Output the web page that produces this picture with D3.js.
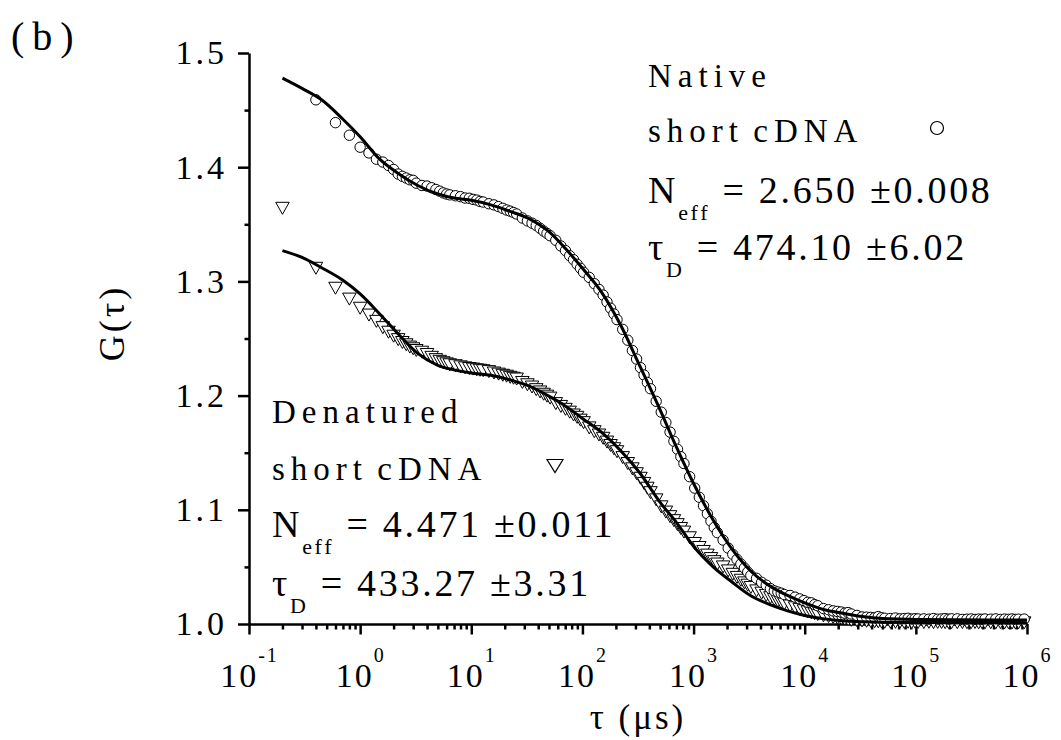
<!DOCTYPE html>
<html>
<head>
<meta charset="utf-8">
<script src="https://cdn.jsdelivr.net/npm/d3@7"></script>
<style>
  body { margin: 0; background: #fff; }
  svg text { font-family: "Liberation Serif", "Times New Roman", serif; fill: #000; }
</style>
</head>
<body>
<svg class="chart"></svg>
<script>

// lag times of the correlator channels (us), shared by both measurements
var tauUs = [
    0.2, 0.4, 0.6, 0.8, 1.0, 1.2, 1.4, 1.6, 1.8, 2.0, 2.2, 2.4, 2.6, 2.8, 3.0, 3.2,
    3.6, 4.0, 4.4, 4.8, 5.2, 5.6, 6.0, 6.4,
    7.2, 8.0, 8.8, 9.6, 10.4, 11.2, 12.0, 12.8,
    14.4, 16.0, 17.6, 19.2, 20.8, 22.4, 24.0, 25.6,
    28.8, 32.0, 35.2, 38.4, 41.6, 44.8, 48.0, 51.2,
    57.6, 64.0, 70.4, 76.8, 83.2, 89.6, 96.0, 102.4,
    115.2, 128, 140.8, 153.6, 166.4, 179.2, 192, 204.8,
    230.4, 256, 281.6, 307.2, 332.8, 358.4, 384, 409.6,
    460.8, 512, 563.2, 614.4, 665.6, 716.8, 768, 819.2,
    921.6, 1024, 1126, 1229, 1331, 1434, 1536, 1638,
    1843, 2048, 2253, 2458, 2662, 2867, 3072, 3277,
    3686, 4096, 4506, 4915, 5325, 5734, 6144, 6554,
    7373, 8192, 9011, 9830, 10650, 11469, 12288, 13107,
    14746, 16384, 18022, 19661, 21299, 22938, 24576, 26214,
    29491, 32768, 36045, 39322, 42598, 45875, 49152, 52429,
    58982, 65536, 72090, 78643, 85197, 91750, 98304, 104858,
    117965, 131072, 144179, 157286, 170394, 183501, 196608, 209715,
    235930, 262144, 288358, 314573, 340787, 367002, 393216, 419430,
    471859, 524288, 576717, 629146, 681574, 734003, 786432, 838861,
    943718
];

// native short cDNA (circles), first channel not shown
var nativeG = [
    null, 1.459, 1.439, 1.428, 1.4175, 1.4125, 1.407, 1.4045, 1.4015, 1.398, 1.394, 1.392, 1.3905, 1.389, 1.3885, 1.386,
    1.384, 1.3835, 1.382, 1.3805, 1.379, 1.3775, 1.3765, 1.3758,
    1.375, 1.3742, 1.373, 1.3728, 1.3718, 1.3712, 1.370, 1.3695,
    1.368, 1.367, 1.3655, 1.364, 1.3625, 1.3615, 1.3603, 1.359,
    1.3555, 1.353, 1.351, 1.349, 1.3465, 1.344, 1.342, 1.340,
    1.336, 1.331, 1.327, 1.3225, 1.319, 1.315, 1.3115, 1.308,
    1.3035, 1.298, 1.293, 1.288, 1.282, 1.2765, 1.2715, 1.2665,
    1.258, 1.2485, 1.2395, 1.232, 1.2245, 1.218, 1.2115, 1.206,
    1.195, 1.1855, 1.1765, 1.168, 1.160, 1.153, 1.1465, 1.1405,
    1.129, 1.119, 1.111, 1.1035, 1.0965, 1.090, 1.0845, 1.080,
    1.0735, 1.0665, 1.061, 1.0565, 1.0525, 1.049, 1.0455, 1.0425,
    1.040, 1.0365, 1.034, 1.031, 1.029, 1.028, 1.027, 1.0258,
    1.025, 1.0235, 1.022, 1.0205, 1.019, 1.0185, 1.017, 1.016,
    1.0135, 1.0125, 1.0115, 1.011, 1.0105, 1.0095, 1.010, 1.0088,
    1.0075, 1.0062, 1.006, 1.0058, 1.0055, 1.0065, 1.0055, 1.005,
    1.0048, 1.0052, 1.0045, 1.0047, 1.005, 1.0043, 1.0046, 1.0044,
    1.0045, 1.0042, 1.0048, 1.0042, 1.0044, 1.0047, 1.0042, 1.0045,
    1.0045, 1.004, 1.0042, 1.0044, 1.004, 1.0043, 1.0041, 1.0044,
    1.0042, 1.0045, 1.004, 1.0043, 1.0041, 1.0044, 1.004, 1.0042,
    1.0043
];

// denatured short cDNA (triangles)
var denatG = [
    1.364, 1.3115, 1.294, 1.2845, 1.2765, 1.2705, 1.265, 1.2595, 1.2555, 1.252, 1.249, 1.2465, 1.2445, 1.2425, 1.241, 1.2395,
    1.238, 1.236, 1.2335, 1.2315, 1.230, 1.2288, 1.2278, 1.227,
    1.2262, 1.2252, 1.2243, 1.2237, 1.2232, 1.2226, 1.2222, 1.2218,
    1.221, 1.2198, 1.2188, 1.2178, 1.217, 1.216, 1.2152, 1.2145,
    1.2115, 1.2095, 1.2075, 1.2052, 1.2032, 1.2012, 1.1995, 1.1978,
    1.193, 1.1905, 1.188, 1.1855, 1.183, 1.181, 1.1785, 1.1763,
    1.1717, 1.1684, 1.1655, 1.1626, 1.1593, 1.1563, 1.1535, 1.1509,
    1.1457, 1.1405, 1.1359, 1.1316, 1.1276, 1.1231, 1.1189, 1.115,
    1.1087, 1.1026, 1.098, 1.094, 1.0905, 1.087, 1.0836, 1.0805,
    1.0755, 1.0705, 1.067, 1.0635, 1.0603, 1.0573, 1.0546, 1.0525,
    1.050, 1.0465, 1.0435, 1.0408, 1.0383, 1.036, 1.034, 1.032,
    1.029, 1.027, 1.025, 1.023, 1.0215, 1.020, 1.0188, 1.0176,
    1.0158, 1.0142, 1.0128, 1.0116, 1.0106, 1.0098, 1.009, 1.0083,
    1.0072, 1.0065, 1.0058, 1.0052, 1.0046, 1.004, 1.0036, 1.0032,
    1.0029, 1.0027, 1.0024, 1.0022, 1.002, 1.0019, 1.0018, 1.0016,
    1.0016, 1.0015, 1.0017, 1.0014, 1.0015, 1.0013, 1.0016, 1.0014,
    1.0013, 1.0015, 1.0012, 1.0014, 1.0013, 1.0012, 1.0014, 1.0012,
    1.0012, 1.0013, 1.0011, 1.0012, 1.0013, 1.001, 1.0012, 1.0011,
    1.0011, 1.001, 1.0012, 1.001, 1.0011, 1.0009, 1.001, 1.0011,
    1.001
];

// fitted curves
var fitTau = [0.2, 0.3, 0.45, 0.7, 1, 1.5, 2.2, 3.3, 5, 7, 10, 15, 22, 33, 50, 70, 100, 150, 220, 330,
    500, 700, 1000, 1500, 2200, 3300, 5000, 7000, 10000, 15000, 22000, 33000, 50000, 100000, 1000000];
var nativeFit = [1.478, 1.469, 1.459, 1.442, 1.4267, 1.407, 1.3945, 1.384, 1.3765, 1.373, 1.371, 1.367, 1.3615, 1.355,
    1.3435, 1.329, 1.3115, 1.290, 1.262, 1.2255, 1.1875, 1.155, 1.123, 1.091, 1.066, 1.046, 1.0325, 1.025,
    1.0185, 1.0125, 1.0095, 1.0065, 1.0048, 1.004, 1.0035];
var denatFit = [1.327, 1.321, 1.312, 1.301, 1.289, 1.2715, 1.254, 1.237, 1.2265, 1.2225, 1.2198, 1.2178, 1.214, 1.2085,
    1.1995, 1.191, 1.180, 1.1675, 1.152, 1.132, 1.1065, 1.089, 1.068, 1.050, 1.037, 1.0245, 1.0165, 1.0115,
    1.0075, 1.0045, 1.0028, 1.002, 1.0016, 1.0014, 1.0012];

// ticks
var yTicks = [1.0, 1.1, 1.2, 1.3, 1.4, 1.5];
var yMinorTicks = [1.05, 1.15, 1.25, 1.35, 1.45];
var xTickExponents = ["-1", "0", "1", "2", "3", "4", "5", "6"];

// annotation texts
var nativeLines = ["Native", "short cDNA", "2.650 \u00b10.008", "474.10 \u00b16.02"];
var denatLines = ["Denatured", "short cDNA", "4.471 \u00b10.011", "433.27 \u00b13.31"];

var serif = "'Liberation Serif', 'Times New Roman', serif";

var margin = {top: 53, right: 34, bottom: 116, left: 249},
    width = 1061 - margin.left - margin.right,
    height = 740 - margin.top - margin.bottom;

var svg = d3.select(".chart")
    .attr("width", 1061)
    .attr("height", 740);

var chart = svg.append("g")
    .attr("transform", "translate(" + margin.left + "," + margin.top + ")");

var x = d3.scaleLog()
    .domain([0.1, 1e6])
    .range([0, width]);

var y = d3.scaleLinear()
    .domain([1.0, 1.5])
    .range([height, 0]);

drawAxes();
drawMarkers();
drawFits();
drawLabels();

// make sure every label uses the serif face
svg.selectAll("text").style("font-family", serif);

// triangle pointing down, centred on its box
function triangle(w, h) {
    return "M" + (-w / 2) + "," + (-h / 2) + "L" + (w / 2) + "," + (-h / 2) + "L0," + (h / 2) + "Z";
}

function drawAxes() {

    // y axis, major and minor ticks
    var yAxis = chart.append("g")
        .attr("class", "y axis")
        .call(d3.axisLeft(y)
            .tickValues(yTicks)
            .tickSize(11)
            .tickSizeOuter(0)
            .tickPadding(11)
            .tickFormat(d3.format(".1f")));

    chart.append("g")
        .attr("class", "y minor")
        .call(d3.axisLeft(y)
            .tickValues(yMinorTicks)
            .tickSize(4.5)
            .tickFormat(""))
        .select(".domain").remove();

    yAxis.selectAll("text")
        .style("font-size", "34px")
        .style("letter-spacing", "3px");

    // x axis, decades and minor ticks
    var xAxis = chart.append("g")
        .attr("class", "x axis")
        .attr("transform", "translate(0," + height + ")")
        .call(d3.axisBottom(x)
            .tickValues(xTickExponents.map(function(e) { return Math.pow(10, +e); }))
            .tickSize(10.5)
            .tickSizeOuter(0)
            .tickFormat(""));

    chart.append("g")
        .attr("class", "x minor")
        .attr("transform", "translate(0," + height + ")")
        .call(d3.axisBottom(x)
            .tickValues(x.ticks().filter(function(d) {
                var l = Math.log10(d);
                return Math.abs(l - Math.round(l)) > 1e-6;
            }))
            .tickSize(5.5)
            .tickFormat(""))
        .select(".domain").remove();

    xAxis.selectAll(".tick text").each(function(d, i) {
        var t = d3.select(this)
            .attr("y", 63)
            .attr("dy", null)
            .style("font-size", "34px")
            .style("letter-spacing", "2px");
        t.append("tspan").text("10");
        t.append("tspan")
            .attr("dy", -25)
            .style("font-size", "20px")
            .text(xTickExponents[i]);
    });

    chart.selectAll(".domain, .tick line")
        .attr("stroke", "#000")
        .attr("stroke-width", 2.5);

    // axis titles
    svg.append("text")
        .attr("x", margin.left + width / 2)
        .attr("y", 729)
        .attr("text-anchor", "middle")
        .style("font-size", "35px")
        .style("letter-spacing", "3px")
        .text("\u03c4 (\u03bcs)");

    svg.append("text")
        .attr("transform", "translate(124,323) rotate(-90)")
        .attr("text-anchor", "middle")
        .style("font-size", "36px")
        .style("letter-spacing", "3px")
        .text("G(\u03c4)");

    svg.append("text")
        .attr("x", 11)
        .attr("y", 50)
        .style("font-size", "40px")
        .style("letter-spacing", "8px")
        .text("(b)");
}

function drawMarkers() {

    var denat = tauUs.map(function(t, i) { return {t: t, g: denatG[i]}; });
    var native = tauUs.map(function(t, i) { return {t: t, g: nativeG[i]}; })
        .filter(function(d) { return d.g != null; });

    chart.append("g").selectAll("path")
        .data(denat).enter()
        .append("path")
        .attr("transform", function(d) { return "translate(" + x(d.t) + "," + y(d.g) + ")"; })
        .attr("d", triangle(13.5, 12))
        .attr("fill", "#fff")
        .attr("stroke", "#000")
        .attr("stroke-width", 1);

    chart.append("g").selectAll("circle")
        .data(native).enter()
        .append("circle")
        .attr("cx", function(d) { return x(d.t); })
        .attr("cy", function(d) { return y(d.g); })
        .attr("r", 5.2)
        .attr("fill", "#fff")
        .attr("stroke", "#000")
        .attr("stroke-width", 1);
}

function drawFits() {

    var line = d3.line()
        .x(function(d) { return x(d.t); })
        .y(function(d) { return y(d.g); })
        .curve(d3.curveMonotoneX);

    [nativeFit, denatFit].forEach(function(fit) {
        chart.append("path")
            .datum(fitTau.map(function(t, i) { return {t: t, g: fit[i]}; }))
            .attr("d", line)
            .attr("fill", "none")
            .attr("stroke", "#000")
            .attr("stroke-width", 3)
            .attr("stroke-linejoin", "round");
    });
}

// one text block: name, sample, N_eff and tau_D lines
function drawBlock(x0, baselines, lines) {

    [0, 1].forEach(function(k) {
        svg.append("text")
            .attr("x", x0)
            .attr("y", baselines[k])
            .style("font-size", "33px")
            .style("letter-spacing", "6px")
            .style("word-spacing", "-5px")
            .text(lines[k]);
    });

    var n = svg.append("text")
        .attr("x", x0)
        .attr("y", baselines[2])
        .style("font-size", "38px")
        .style("letter-spacing", "2.7px");
    n.append("tspan").text("N");
    n.append("tspan").attr("dy", 17).style("font-size", "22px").text("eff");
    n.append("tspan").attr("dy", -17).text(" = " + lines[2]);

    var t = svg.append("text")
        .attr("x", x0)
        .attr("y", baselines[3])
        .style("font-size", "38px")
        .style("letter-spacing", "2.7px");
    t.append("tspan").text("\u03c4");
    t.append("tspan").attr("dy", 17).style("font-size", "22px").text("D");
    t.append("tspan").attr("dy", -17).text(" = " + lines[3]);
}

function drawLabels() {

    drawBlock(648, [87, 142, 203, 260], nativeLines);
    drawBlock(272, [423, 480, 537, 596], denatLines);

    // legend symbols
    svg.append("circle")
        .attr("cx", 937)
        .attr("cy", 128)
        .attr("r", 6.5)
        .attr("fill", "#fff")
        .attr("stroke", "#000")
        .attr("stroke-width", 1.2);

    svg.append("path")
        .attr("transform", "translate(555,466)")
        .attr("d", triangle(16, 13))
        .attr("fill", "#fff")
        .attr("stroke", "#000")
        .attr("stroke-width", 1.2);
}

</script>
</body>
</html>
